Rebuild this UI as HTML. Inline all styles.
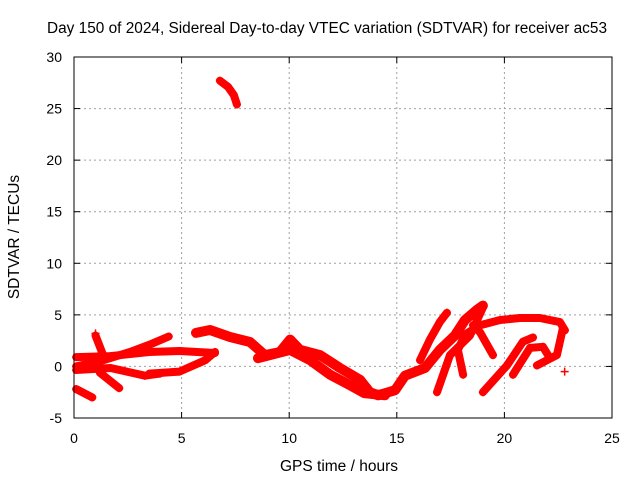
<!DOCTYPE html>
<html><head><meta charset="utf-8"><style>
body{margin:0;background:#fff}
svg{display:block;font-family:"Liberation Sans",sans-serif}
</style></head><body>
<svg id="chart" width="640" height="480">
<rect width="640" height="480" fill="#fff"/>
<text x="327" y="33" font-size="15.4" text-anchor="middle">Day 150 of 2024, Sidereal Day-to-day VTEC variation (SDTVAR) for receiver ac53</text>
<g id="grid"></g>
<g id="ticks"></g>
<g id="series"></g>
<rect x="74" y="57" width="538" height="361" fill="none" stroke="#000" stroke-width="1"/>
<text x="339" y="471" font-size="15.5" text-anchor="middle">GPS time / hours</text>
<text transform="translate(19,237) rotate(-90)" font-size="15.5" text-anchor="middle">SDTVAR / TECUs</text>
</svg>
<script>
const xTicks=[0,5,10,15,20,25];
const yTicks=[-5,0,5,10,15,20,25,30];
const trackHours=[
[0.1,1.7,3.5,4.9,6.55],
[0.1,1.2,2.6,3.5,4.4],
[0.1,1.7,3.3,4.0],
[1.2,2.1],
[1.0,1.35],
[0.1,0.85],
[3.5,4.9,6.1,6.55],
[5.67,6.32,7.25,8.18,8.87,9.57,10.04,10.5,11.43,12.36,13.29,13.75,14.13,14.92,15.38,16.31,17.0,17.7,18.17,18.73,19.0],
[8.55,10.04,10.97,11.9,12.8,13.5,14.45],
[6.78,7.16,7.43,7.57],
[16.87,17.47,18.4,19.0],
[18.08,17.84,18.17,18.87,19.8,20.72,21.65,22.58,22.81],
[19.47,18.87,18.54],
[19.0,20.12,20.86,21.33],
[20.4,21.19,21.79,22.12],
[21.51,22.44,22.72],
[16.08,16.54,17.0,17.33]
];
const trackValues=[
[0.9,1.0,1.4,1.5,1.3],
[0,0.5,1.4,2.1,2.9],
[-0.35,-0.15,-0.9,-0.7],
[-0.6,-2.1],
[3.0,1.1],
[-2.2,-3.0],
[-0.7,-0.5,0.6,1.4],
[3.25,3.53,2.85,2.37,1.1,1.4,2.6,1.6,1.1,-0.15,-1.3,-2.5,-2.8,-2.3,-0.9,-0.15,1.6,3.0,4.5,5.5,5.9],
[0.8,1.6,0.6,-0.8,-1.8,-2.6,-2.8],
[27.7,27.1,26.3,25.4],
[-2.5,1.1,3.0,5.7],
[-0.8,1.6,3.1,4.0,4.5,4.7,4.7,4.3,3.5],
[1.1,3.3,4.0],
[-2.5,0.1,2.4,2.8],
[-0.8,1.8,1.9,0.8],
[0.1,1.1,3.7],
[0.6,2.6,4.3,5.2]
];
const isoHours=[1.0,22.8];
const isoValues=[3.2,-0.5];
const X0=74,X1=612,Y0=418,Y1=57,xmin=0,xmax=25,ymin=-5,ymax=30;
const sx=h=>X0+(h-xmin)/(xmax-xmin)*(X1-X0);
const sy=v=>Y0-(v-ymin)/(ymax-ymin)*(Y0-Y1);
const NS="http://www.w3.org/2000/svg";
function mk(t,a,p){const e=document.createElementNS(NS,t);for(const k in a)e.setAttribute(k,a[k]);p.appendChild(e);return e;}
const grid=document.getElementById('grid'),ticks=document.getElementById('ticks'),ser=document.getElementById('series');
xTicks.forEach(t=>{const x=sx(t);
 if(t>xmin&&t<xmax){const l=mk('line',{x1:x,x2:x,y1:Y1,y2:Y0,stroke:'#a0a0a0','stroke-dasharray':'2,3'},grid);
 
 }
 mk('line',{x1:x,x2:x,y1:Y0,y2:Y0-6,stroke:'#000'},ticks);mk('line',{x1:x,x2:x,y1:Y1,y2:Y1+6,stroke:'#000'},ticks);
 const tx=mk('text',{x:x,y:443,'font-size':14,'text-anchor':'middle'},ticks);tx.textContent=t;
 
 
});
yTicks.forEach(t=>{const y=sy(t);
 if(t>ymin&&t<ymax){const l=mk('line',{x1:X0,x2:X1,y1:y,y2:y,stroke:'#a0a0a0','stroke-dasharray':'2,3'},grid);
 
 }
 mk('line',{x1:X0,x2:X0+6,y1:y,y2:y,stroke:'#000'},ticks);mk('line',{x1:X1,x2:X1-6,y1:y,y2:y,stroke:'#000'},ticks);
 const tx=mk('text',{x:62,y:y+5,'font-size':14,'text-anchor':'end'},ticks);tx.textContent=t;
 
 
});
function plus(h,v){const x=sx(h),y=sy(v);
 const p=mk('path',{d:`M${x-4},${y}h8M${x},${y-4}v8`,stroke:'#f00','stroke-width':1.5},ser);
 
 }
trackHours.forEach((hs,i)=>{const vs=trackValues[i];
 const d=hs.map((h,j)=>(j?'L':'M')+sx(h).toFixed(1)+','+sy(vs[j]).toFixed(1)).join('');
 const p=mk('path',{d:d,fill:'none',stroke:'#f00','stroke-width':(i===7||i===8)?10:8,'stroke-linejoin':'round','stroke-linecap':'round'},ser);
 
 
 hs.forEach((h,j)=>plus(h,vs[j]));
});
isoHours.forEach((h,i)=>plus(h,isoValues[i]));
</script>
</body></html>
